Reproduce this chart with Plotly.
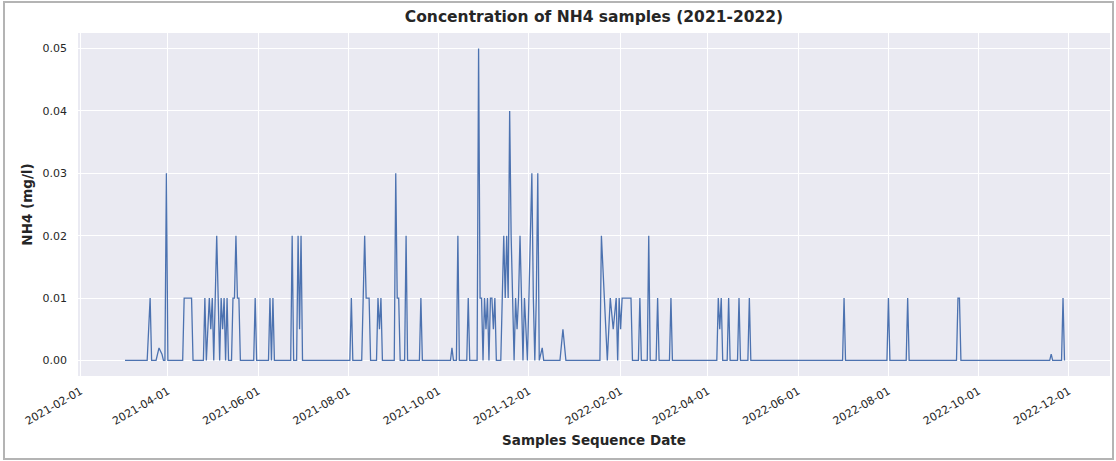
import plotly.graph_objects as go

# NH4 sample readings (mg/l) by sampling date
sample_dates = [
    "2021-03-03", "2021-03-18", "2021-03-20", "2021-03-21", "2021-03-24", "2021-03-26",
    "2021-03-28", "2021-03-29", "2021-03-30", "2021-03-31", "2021-04-01", "2021-04-11",
    "2021-04-12", "2021-04-17", "2021-04-18", "2021-04-25", "2021-04-26", "2021-04-27",
    "2021-04-29", "2021-04-30", "2021-05-01", "2021-05-02", "2021-05-03", "2021-05-04",
    "2021-05-05", "2021-05-06", "2021-05-07", "2021-05-08", "2021-05-09", "2021-05-10",
    "2021-05-11", "2021-05-12", "2021-05-14", "2021-05-15", "2021-05-16", "2021-05-17",
    "2021-05-18", "2021-05-19", "2021-05-20", "2021-05-29", "2021-05-30", "2021-05-31",
    "2021-06-08", "2021-06-09", "2021-06-10", "2021-06-11", "2021-06-12", "2021-06-23",
    "2021-06-24", "2021-06-25", "2021-06-27", "2021-06-28", "2021-06-29", "2021-06-30",
    "2021-07-01", "2021-08-02", "2021-08-03", "2021-08-04", "2021-08-10", "2021-08-11",
    "2021-08-12", "2021-08-13", "2021-08-14", "2021-08-15", "2021-08-16", "2021-08-20",
    "2021-08-21", "2021-08-22", "2021-08-23", "2021-08-24", "2021-09-01", "2021-09-02",
    "2021-09-03", "2021-09-04", "2021-09-05", "2021-09-08", "2021-09-09", "2021-09-10",
    "2021-09-18", "2021-09-19", "2021-09-20", "2021-10-09", "2021-10-10", "2021-10-11",
    "2021-10-13", "2021-10-14", "2021-10-15", "2021-10-20", "2021-10-21", "2021-10-22",
    "2021-10-27", "2021-10-28", "2021-10-29", "2021-10-30", "2021-10-31", "2021-11-01",
    "2021-11-02", "2021-11-03", "2021-11-04", "2021-11-05", "2021-11-06", "2021-11-07",
    "2021-11-08", "2021-11-09", "2021-11-12", "2021-11-13", "2021-11-14", "2021-11-15",
    "2021-11-16", "2021-11-17", "2021-11-18", "2021-11-19", "2021-11-20", "2021-11-21",
    "2021-11-22", "2021-11-23", "2021-11-24", "2021-11-25", "2021-11-26", "2021-11-27",
    "2021-11-28", "2021-11-29", "2021-11-30", "2021-12-01", "2021-12-02", "2021-12-03",
    "2021-12-04", "2021-12-05", "2021-12-06", "2021-12-07", "2021-12-08", "2021-12-09",
    "2021-12-10", "2021-12-11", "2021-12-22", "2021-12-24", "2021-12-26", "2022-01-18",
    "2022-01-19", "2022-01-21", "2022-01-23", "2022-01-25", "2022-01-27", "2022-01-29",
    "2022-01-30", "2022-01-31", "2022-02-01", "2022-02-02", "2022-02-04", "2022-02-06",
    "2022-02-08", "2022-02-09", "2022-02-13", "2022-02-14", "2022-02-15", "2022-02-19",
    "2022-02-20", "2022-02-21", "2022-02-25", "2022-02-26", "2022-02-27", "2022-03-06",
    "2022-03-07", "2022-03-08", "2022-04-07", "2022-04-08", "2022-04-09", "2022-04-10",
    "2022-04-11", "2022-04-14", "2022-04-15", "2022-04-16", "2022-04-21", "2022-04-22",
    "2022-04-23", "2022-04-28", "2022-04-29", "2022-04-30", "2022-07-01", "2022-07-02",
    "2022-07-03", "2022-07-31", "2022-08-01", "2022-08-02", "2022-08-13", "2022-08-14",
    "2022-08-15", "2022-09-16", "2022-09-17", "2022-09-18", "2022-09-19", "2022-11-18",
    "2022-11-19", "2022-11-20", "2022-11-26", "2022-11-27", "2022-11-28",
]

nh4_mgl = [
    0.0, 0.0, 0.01, 0.0, 0.0, 0.002,
    0.001, 0.0, 0.0, 0.03, 0.0, 0.0,
    0.01, 0.01, 0.0, 0.0, 0.01, 0.0,
    0.01, 0.005, 0.01, 0.0, 0.01, 0.02,
    0.01, 0.0, 0.01, 0.005, 0.01, 0.0,
    0.01, 0.0, 0.0, 0.01, 0.01, 0.02,
    0.01, 0.01, 0.0, 0.0, 0.01, 0.0,
    0.0, 0.01, 0.0, 0.01, 0.0, 0.0,
    0.02, 0.0, 0.0, 0.02, 0.005, 0.02,
    0.0, 0.0, 0.01, 0.0, 0.0, 0.01,
    0.02, 0.01, 0.01, 0.01, 0.0, 0.0,
    0.01, 0.005, 0.01, 0.0, 0.0, 0.03,
    0.01, 0.01, 0.0, 0.0, 0.02, 0.0,
    0.0, 0.01, 0.0, 0.0, 0.002, 0.0,
    0.0, 0.02, 0.0, 0.0, 0.01, 0.0,
    0.0, 0.05, 0.01, 0.01, 0.0, 0.01,
    0.005, 0.01, 0.0, 0.01, 0.01, 0.005,
    0.01, 0.0, 0.0, 0.01, 0.02, 0.01,
    0.02, 0.01, 0.04, 0.02, 0.01, 0.0,
    0.01, 0.005, 0.01, 0.02, 0.01, 0.0,
    0.01, 0.005, 0.0, 0.01, 0.02, 0.03,
    0.01, 0.0, 0.01, 0.03, 0.0, 0.001,
    0.002, 0.0, 0.0, 0.005, 0.0, 0.0,
    0.02, 0.01, 0.0, 0.01, 0.005, 0.01,
    0.0, 0.01, 0.005, 0.01, 0.01, 0.01,
    0.01, 0.0, 0.0, 0.01, 0.0, 0.0,
    0.02, 0.0, 0.0, 0.01, 0.0, 0.0,
    0.01, 0.0, 0.0, 0.01, 0.005, 0.01,
    0.0, 0.0, 0.01, 0.0, 0.0, 0.01,
    0.0, 0.0, 0.01, 0.0, 0.0, 0.01,
    0.0, 0.0, 0.01, 0.0, 0.0, 0.01,
    0.0, 0.0, 0.01, 0.01, 0.0, 0.0,
    0.001, 0.0, 0.0, 0.01, 0.0,
]

x_tick_dates = [
    "2021-02-01", "2021-04-01", "2021-06-01", "2021-08-01", "2021-10-01", "2021-12-01",
    "2022-02-01", "2022-04-01", "2022-06-01", "2022-08-01", "2022-10-01", "2022-12-01",
]
y_tick_values = [0.00, 0.01, 0.02, 0.03, 0.04, 0.05]

W, H = 1116, 461
ML, MR, MT, MB = 78, 6, 33, 85
PW, PH = W - ML - MR, H - MT - MB

FONT = "DejaVu Sans"
TEXT = "#262626"

fig = go.Figure()
fig.add_trace(go.Scatter(
    x=sample_dates, y=nh4_mgl, mode="lines",
    line=dict(color="#4c72b0", width=1.3),
    showlegend=False,
))


def px_x(px):
    return (px - ML) / PW


def px_y(py):
    return (H - MB - py) / PH


fig.update_layout(
    width=W, height=H,
    margin=dict(l=ML, r=MR, t=MT, b=MB),
    paper_bgcolor="white",
    plot_bgcolor="#eaeaf2",
    font=dict(family=FONT, color=TEXT),
    title=dict(
        text="<b>Concentration of NH4 samples (2021-2022)</b>",
        font=dict(size=15.5, color=TEXT),
        x=0.5, xref="paper", xanchor="center",
        y=1 - 17 / H, yref="container", yanchor="middle",
    ),
    xaxis=dict(
        type="date",
        range=["2021-01-30 06:00", "2022-12-28 18:00"],
        tickvals=x_tick_dates,
        ticktext=x_tick_dates,
        tickangle=-30,
        tickfont=dict(size=11, color=TEXT),
        showgrid=True, gridcolor="white", gridwidth=1.2,
        zeroline=False, showline=False, ticks="",
        ticklabelstandoff=6,
        title=dict(text="<b>Samples Sequence Date</b>",
                   font=dict(size=13.5, color=TEXT), standoff=8),
        automargin=False,
    ),
    yaxis=dict(
        range=[-0.0025, 0.0525],
        tickvals=y_tick_values,
        tickformat=".2f",
        tickfont=dict(size=11, color=TEXT),
        showgrid=True, gridcolor="white", gridwidth=1.2,
        zeroline=False, showline=False, ticks="",
        ticklabelstandoff=10,
        title=dict(text="<b>NH4 (mg/l)</b>",
                   font=dict(size=13.5, color=TEXT), standoff=6),
        automargin=False,
    ),
    shapes=[dict(
        type="rect", xref="paper", yref="paper", layer="below",
        x0=px_x(4), x1=px_x(1113), y0=px_y(459), y1=px_y(2),
        line=dict(color="#b4b4b4", width=2), fillcolor="rgba(0,0,0,0)",
    )],
)

fig.write_html("out.html")
